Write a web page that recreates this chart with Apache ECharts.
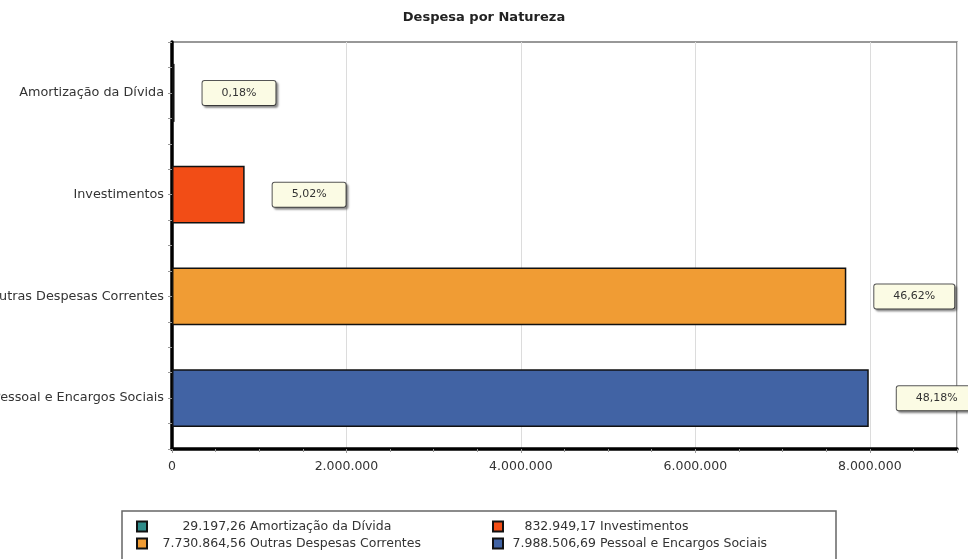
<!DOCTYPE html>
<html>
<head>
<meta charset="utf-8">
<script src="https://cdn.jsdelivr.net/npm/echarts@6/dist/echarts.min.js"></script>
<style>
html, body { margin: 0; padding: 0; background: #fff; }
#chart { width: 968px; height: 559px; }
</style>
</head>
<body>
<div id="chart"></div>
<script>
// dados
const categories = ['Amortização da Dívida', 'Investimentos', 'Outras Despesas Correntes', 'Pessoal e Encargos Sociais'];
const values = [29197.26, 832949.17, 7730864.56, 7988506.69];
const shares = ['0,18%', '5,02%', '46,62%', '48,18%'];
const colors = ['#2f8c8a', '#f24d16', '#f09c34', '#4163a4'];
const xMax = 9000000;
const xStep = 2000000;
const legendCol1 = ['Amortização da Dívida', 'Outras Despesas Correntes'];
const legendCol2 = ['Investimentos', 'Pessoal e Encargos Sociais'];

const FONT = 'DejaVu Sans';
const LEGEND_SIZE = 12.5;

function fmtNum(n, dec) {
    const parts = n.toFixed(dec).split('.');
    parts[0] = parts[0].replace(/\B(?=(\d{3})+(?!\d))/g, '.');
    return dec ? parts[0] + ',' + parts[1] : parts[0];
}

// medir o texto para alinhar os valores da legenda à direita
const measureCtx = document.createElement('canvas').getContext('2d');
measureCtx.font = LEGEND_SIZE + 'px "' + FONT + '"';
function textWidth(s) {
    return measureCtx.measureText(s).width;
}

const chart = echarts.init(document.getElementById('chart'), null, { renderer: 'canvas' });

let series = [];
for (let i = 0; i < categories.length; i++) {
    series.push({
        name: categories[i],
        type: 'bar',
        yAxisIndex: 0,
        barGap: '-100%',
        barCategoryGap: '43%',
        data: categories.map((c, j) => j === i ? values[i] : '-'),
        itemStyle: { color: colors[i], borderColor: '#111', borderWidth: 1.5 },
        label: {
            show: true,
            position: 'right',
            distance: 28,
            formatter: () => shares[i],
            fontFamily: FONT,
            fontSize: 11,
            color: '#333',
            backgroundColor: '#fbfbe4',
            borderColor: '#555',
            borderWidth: 1,
            borderRadius: 2,
            padding: [7, 19, 6, 19],
            shadowColor: 'rgba(0,0,0,0.35)',
            shadowOffsetX: 2,
            shadowOffsetY: 2,
            shadowBlur: 2
        },
        animation: false
    });
}

function legendFor(names, left, valWidth) {
    let rich = {};
    names.forEach(name => {
        const i = categories.indexOf(name);
        const pad = Math.max(0, valWidth - textWidth(fmtNum(values[i], 2)));
        rich['v' + i] = { padding: [0, 0, 0, pad], fontFamily: FONT, fontSize: LEGEND_SIZE, color: '#333' };
    });
    return {
        orient: 'vertical',
        left: left,
        top: 514,
        data: names,
        icon: 'rect',
        itemWidth: 10,
        itemHeight: 10,
        itemGap: 2,
        selectedMode: false,
        formatter: name => {
            const i = categories.indexOf(name);
            return '{v' + i + '|' + fmtNum(values[i], 2) + '} ' + name;
        },
        textStyle: {
            fontFamily: FONT,
            fontSize: LEGEND_SIZE,
            color: '#333',
            lineHeight: 15,
            rich: rich
        }
    };
}

const option = {
    backgroundColor: '#fff',
    title: {
        text: 'Despesa por Natureza',
        left: 'center',
        top: 6,
        textStyle: { fontFamily: FONT, fontSize: 13, fontWeight: 'bold', color: '#222' }
    },
    legend: [legendFor(legendCol1, 131, 94), legendFor(legendCol2, 487, 88)],
    grid: {
        left: 172,
        right: 11,
        top: 42,
        bottom: 110,
        outerBoundsMode: 'none',
        containLabel: false,
        show: true,
        borderColor: '#777',
        borderWidth: 1.5
    },
    xAxis: {
        type: 'value',
        min: 0,
        max: xMax,
        interval: xStep,
        axisLine: { show: true, lineStyle: { color: '#000', width: 3.5 } },
        axisTick: { show: true, length: 4, lineStyle: { color: '#999' } },
        minorTick: { show: true, splitNumber: 4, length: 3, lineStyle: { color: '#999' } },
        splitLine: { show: true, lineStyle: { color: '#dcdcdc', width: 1 } },
        axisLabel: {
            showMaxLabel: false,
            margin: 11,
            fontFamily: FONT,
            fontSize: 12.5,
            color: '#333',
            formatter: v => fmtNum(v, 0)
        }
    },
    yAxis: [{
        type: 'category',
        inverse: true,
        data: categories,
        axisLine: { show: true, lineStyle: { color: '#000', width: 3.5 } },
        axisTick: { show: false },
        axisLabel: { margin: 8, fontFamily: FONT, fontSize: 12.8, color: '#333' }
    }, {
        type: 'value',
        position: 'left',
        min: 0,
        max: 16,
        interval: 1,
        axisLine: { show: false },
        axisTick: { show: true, length: 4, lineStyle: { color: '#999' } },
        axisLabel: { show: false },
        splitLine: { show: false }
    }],
    graphic: [{
        type: 'rect',
        shape: { x: 122, y: 511, width: 714, height: 60 },
        style: { fill: 'none', stroke: '#666', lineWidth: 1.5 },
        z: -1
    }],
    series: series,
    animation: false
};

chart.setOption(option);
</script>
</body>
</html>
